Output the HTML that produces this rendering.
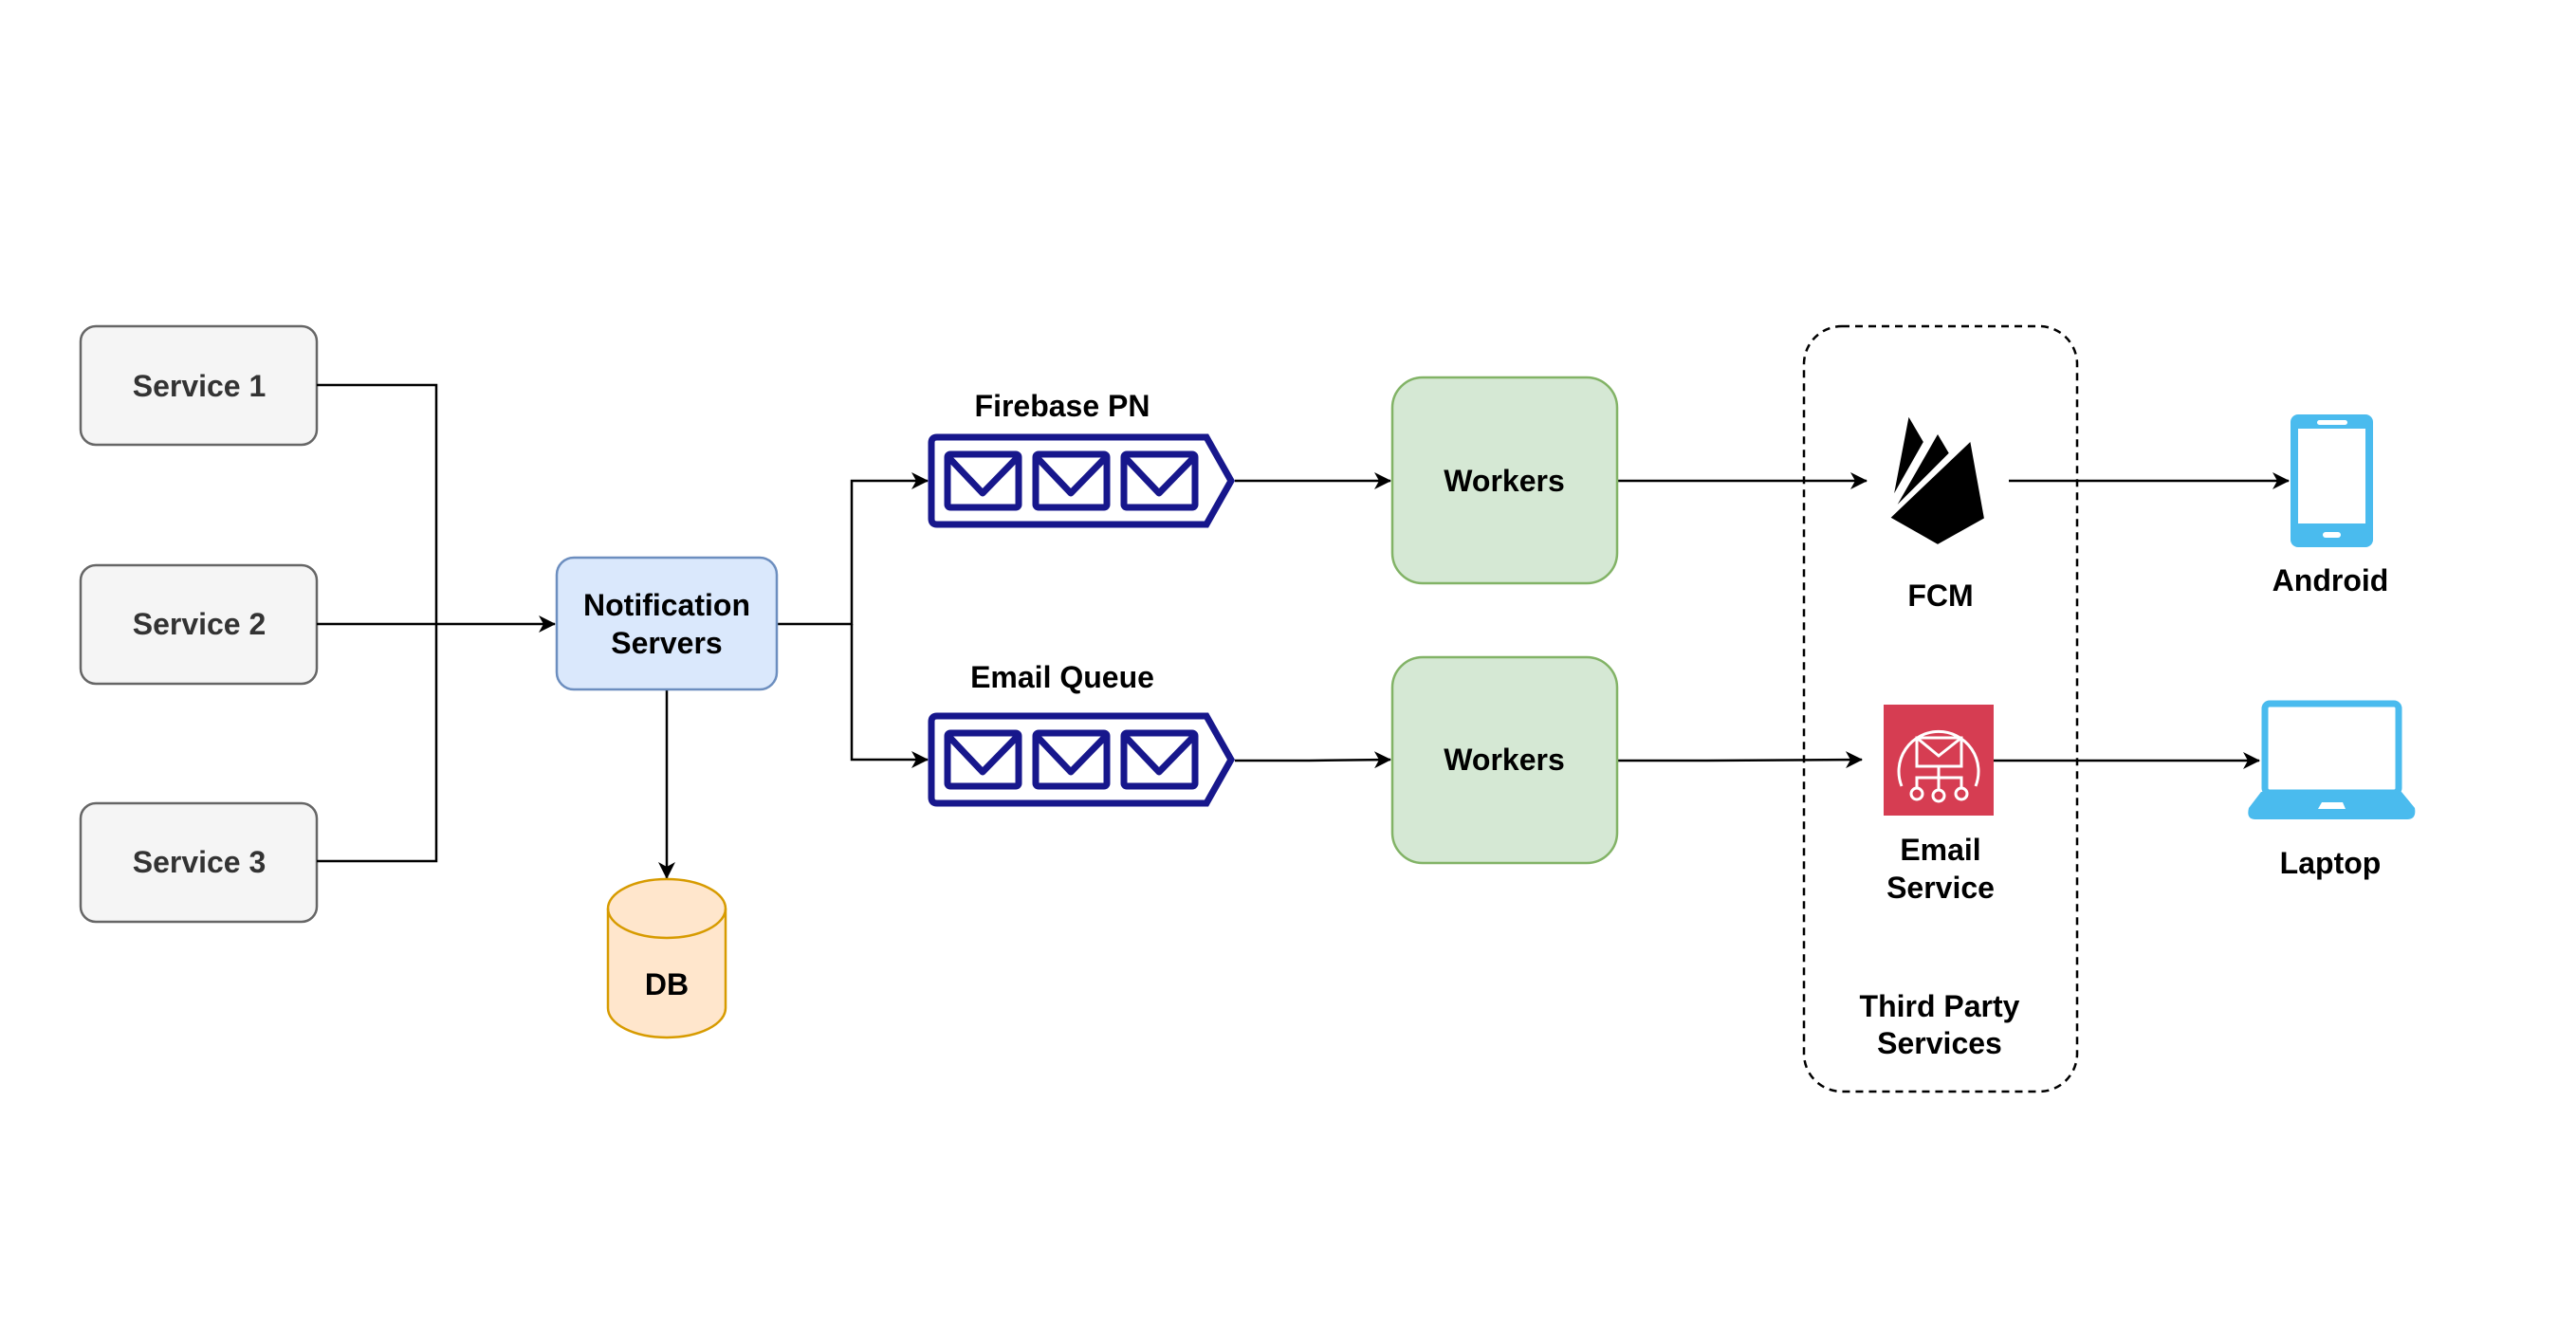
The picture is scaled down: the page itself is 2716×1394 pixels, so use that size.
<!DOCTYPE html>
<html><head><meta charset="utf-8"><style>
html,body{margin:0;padding:0;background:#fff;}
svg{display:block;}
text{font-family:"Liberation Sans",Arial,sans-serif;font-weight:bold;font-size:32px;text-anchor:middle;dominant-baseline:central;}
</style></head><body>
<svg width="2716" height="1394" viewBox="0 0 2716 1394" xmlns="http://www.w3.org/2000/svg">
<defs>
<marker id="a" markerWidth="18" markerHeight="18" refX="17" refY="9" orient="auto" markerUnits="userSpaceOnUse">
<path d="M0,0 L18,9 L0,18 L5,9 Z" fill="#000"/>
</marker>
</defs>
<rect width="2716" height="1394" fill="#fff"/>

<g fill="#f5f5f5" stroke="#666" stroke-width="2.5">
<rect x="85" y="344" width="249" height="125" rx="16"/>
<rect x="85" y="596" width="249" height="125" rx="16"/>
<rect x="85" y="847" width="249" height="125" rx="16"/>
</g>
<g fill="#333">
<text x="210" y="407">Service 1</text>
<text x="210" y="658">Service 2</text>
<text x="210" y="909">Service 3</text>
</g>

<g stroke="#000" stroke-width="2.5" fill="none">
<path d="M334,406 H460 V908 H334"/>
<path d="M334,658 H585" marker-end="url(#a)"/>
<path d="M819,658 H898 V507 H978" marker-end="url(#a)"/>
<path d="M898,658 V801 H978" marker-end="url(#a)"/>
<path d="M703,727 V926" marker-end="url(#a)"/>
<path d="M1302,507 H1466" marker-end="url(#a)"/>
<path d="M1302,802 H1380 L1466,801" marker-end="url(#a)"/>
<path d="M1705,507 H1968" marker-end="url(#a)"/>
<path d="M1705,802 H1800 L1963,801" marker-end="url(#a)"/>
<path d="M2118,507 H2413" marker-end="url(#a)"/>
<path d="M2102,802 H2382" marker-end="url(#a)"/>
</g>

<rect x="587" y="588" width="232" height="139" rx="18" fill="#dae8fc" stroke="#6c8ebf" stroke-width="2.5"/>
<text x="703" y="638">Notification</text>
<text x="703" y="678">Servers</text>

<path d="M641,958 V1063 A62,31 0 0 0 765,1063 V958 A62,31 0 0 0 641,958 Z" fill="#ffe6cc" stroke="#d79b00" stroke-width="2.5"/>
<path d="M641,958 A62,31 0 0 0 765,958" fill="none" stroke="#d79b00" stroke-width="2.5"/>
<text x="703" y="1038">DB</text>

<g id="q">
<path d="M988,461 H1272 L1298,507 L1272,553 H988 Q982,553 982,547 V467 Q982,461 988,461 Z" fill="#fff" stroke="#17178c" stroke-width="7"/>
<g fill="#fff" stroke="#17178c" stroke-width="7" stroke-linejoin="round">
<rect x="999" y="479" width="75" height="56" rx="3"/>
<path d="M999,481 L1036,520 L1074,481" fill="none"/>
<rect x="1092" y="479" width="75" height="56" rx="3"/>
<path d="M1092,481 L1129,520 L1167,481" fill="none"/>
<rect x="1185" y="479" width="75" height="56" rx="3"/>
<path d="M1185,481 L1222,520 L1260,481" fill="none"/>
</g>
</g>
<use href="#q" y="294"/>
<text x="1120" y="428" fill="#000">Firebase PN</text>
<text x="1120" y="714" fill="#000">Email Queue</text>

<rect x="1468" y="398" width="237" height="217" rx="32" fill="#d5e8d4" stroke="#82b366" stroke-width="2.5"/>
<rect x="1468" y="693" width="237" height="217" rx="32" fill="#d5e8d4" stroke="#82b366" stroke-width="2.5"/>
<text x="1586" y="507">Workers</text>
<text x="1586" y="801">Workers</text>

<rect x="1902" y="344" width="288" height="807" rx="40" fill="none" stroke="#000" stroke-width="2.5" stroke-dasharray="8,6"/>

<g fill="#000" stroke="#fff" stroke-width="2" stroke-linejoin="round">
<path d="M2012,437 L2029,466 L1995,526 Z"/>
<path d="M2043,456 L2056,478 L1996,538 Z"/>
<path d="M2078,464 L2093,547 L2043,575 L1992,546 Z"/>
</g>
<text x="2046" y="628">FCM</text>

<rect x="1986" y="743" width="116" height="117" fill="#d63d52"/>
<g fill="none" stroke="#fff" stroke-width="3">
<path d="M2005,829 A42,42 0 1 1 2083,829"/>
<rect x="2021" y="778" width="47" height="30"/>
<path d="M2021,778 L2044,797 L2068,778"/>
<path d="M2044,808 V820 M2021,832 V820 H2068 V832 M2044,820 V832"/>
<circle cx="2021" cy="837" r="6"/>
<circle cx="2044" cy="839" r="6"/>
<circle cx="2068" cy="837" r="6"/>
</g>
<text x="2046" y="896">Email</text>
<text x="2046" y="936">Service</text>
<text x="2045" y="1061">Third Party</text>
<text x="2045" y="1100">Services</text>

<rect x="2415" y="437" width="87" height="140" rx="8" fill="#4abbee"/>
<rect x="2423" y="452" width="71" height="100" fill="#fff"/>
<rect x="2443" y="443" width="32" height="5" rx="2.5" fill="#fff"/>
<rect x="2449" y="561" width="19" height="6" rx="3" fill="#fff"/>
<text x="2457" y="612">Android</text>

<rect x="2388" y="742" width="141" height="94" rx="5" fill="#fff" stroke="#4abbee" stroke-width="7"/>
<path d="M2384,835 H2532 L2546,852 Q2548,864 2538,864 H2378 Q2368,864 2371,852 Z" fill="#4abbee"/>
<path d="M2444,853 L2448,846 H2470 L2473,853 Z" fill="#fff"/>
<text x="2457" y="910">Laptop</text>
</svg>
</body></html>
